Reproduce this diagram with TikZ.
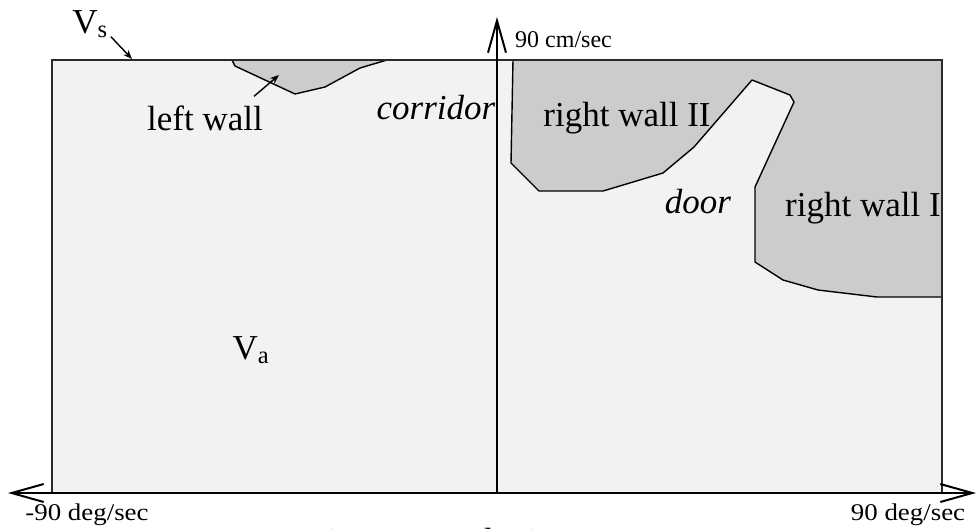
\documentclass[tikz,border=0pt]{standalone}
\usepackage{fontspec}
\setmainfont{Liberation Serif}
\usetikzlibrary{arrows.meta}
\definecolor{bgfill}{HTML}{F2F2F2}
\definecolor{wallfill}{HTML}{CCCCCC}
\definecolor{edgegray}{HTML}{2A2A2A}
\begin{document}
\begin{tikzpicture}[x=1pt,y=-1pt,
  bigtext/.style={font=\fontsize{35}{40}\selectfont, inner sep=0pt},
  bigital/.style={font=\fontsize{35}{40}\selectfont\itshape, inner sep=0pt},
  axistext/.style={font=\fontsize{24}{28}\selectfont, inner sep=0pt},
  captext/.style={font=\fontsize{24}{28}\selectfont, inner sep=0pt},
  wallline/.style={line width=1.4pt, fill=wallfill, draw=black, line join=round},
  axisline/.style={line width=1.8pt, draw=black},
  barbtip/.tip={Straight Barb[length=32pt,width=18pt,line width=2pt]},
  pointer/.style={line width=1.4pt, -{Stealth[length=9pt,width=7pt]}}]
\useasboundingbox (0,0) rectangle (977,528);
% background field
\fill[bgfill] (52,60) rectangle (942,493);
% left wall
\filldraw[wallline] (232,60) -- (235,66) -- (295,94) -- (325,87) -- (360,68) -- (387,60);
% right walls
\filldraw[wallline] (513,60) -- (511,163) -- (539,191) -- (603,191) -- (663,173)
  -- (694,147) -- (752,80) -- (790,95) -- (794,102) -- (755,187) -- (755,262)
  -- (783,280) -- (818,290) -- (877,297) -- (942,297) -- (942,60) -- cycle;
% frame
\draw[line width=2pt, draw=edgegray] (52,493) -- (52,60) -- (942,60) -- (942,493);
% axes
\coordinate (yfoot) at (497,493);
\coordinate (ytip) at (497,17);
\coordinate (xleft) at (8,493);
\coordinate (xright) at (976,493);
\draw[axisline, -barbtip] (yfoot) -- (ytip);
\draw[axisline, barbtip-barbtip] (xleft) -- (xright);
% labels
\node[bigtext] (vs) at (90,24) {V\textsubscript{s}};
\coordinate (vstip) at (132,59);
\draw[pointer] ([xshift=3pt,yshift=1pt]vs.south east) -- (vstip);
\node[bigtext] (leftwall) at (205,118) {left wall};
\coordinate (lwtip) at (279,75);
\draw[pointer] ([xshift=-9pt,yshift=9pt]leftwall.north east) -- (lwtip);
\node[bigital] (corridor) at (436,108) {corridor};
\node[bigtext] (rw2) at (627,118) {right wall II};
\node[bigital] (door) at (698,202) {door};
\begin{scope}
  \clip (52,60) rectangle (941,493);
  \node[bigtext, anchor=west] (rw1) at (785,208) {right wall I};
\end{scope}
\node[bigtext] (va) at (251,350) {V\textsubscript{a}};
\node[captext, anchor=base west] (ycap) at (515,47) {90 cm/sec};
\node[axistext, anchor=base] (xlcap) at (87,520) {\scalebox{1.12}[1]{-90 deg/sec}};
\node[axistext, anchor=base] (xrcap) at (908,520) {\scalebox{1.12}[1]{90 deg/sec}};
\node[bigtext, anchor=base] (caption) at (436,552) {Figure 4: Velocity};
\end{tikzpicture}
\end{document}
